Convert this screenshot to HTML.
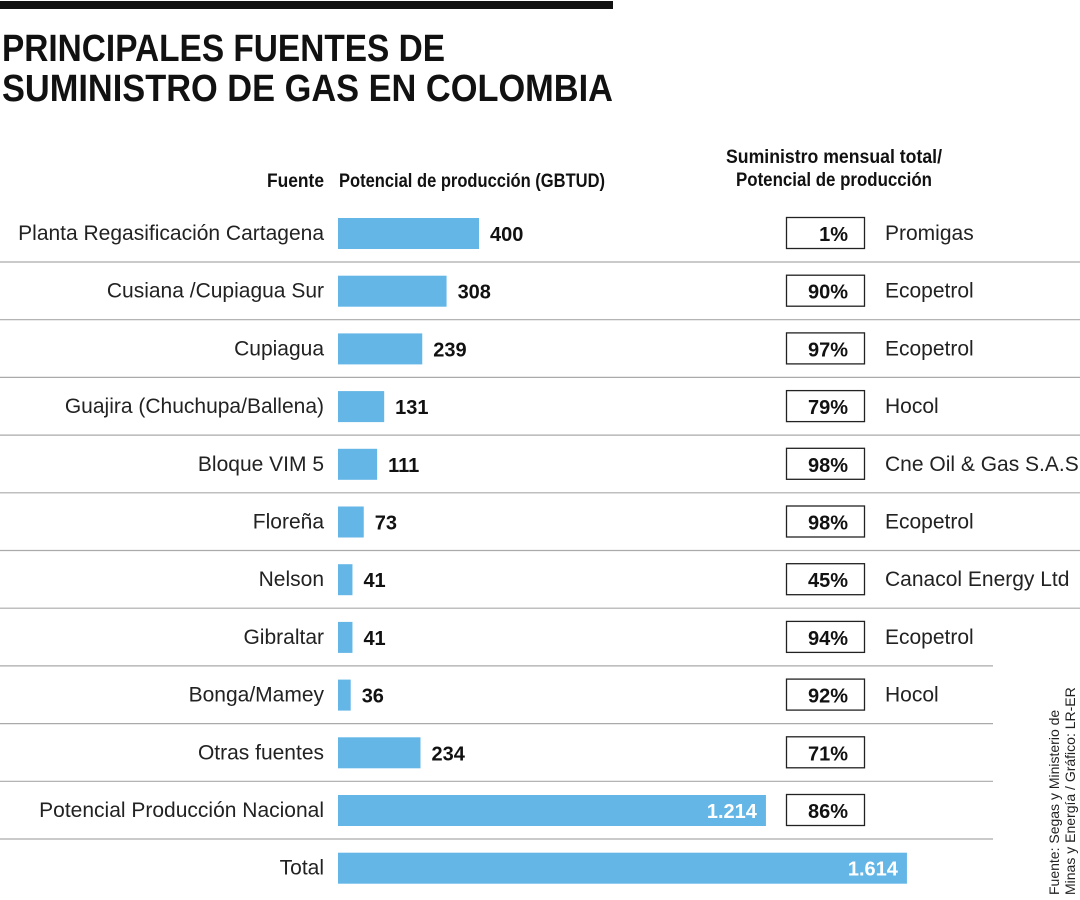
<!DOCTYPE html>
<html><head><meta charset="utf-8"><style>
body{margin:0;background:#fff;}
svg{display:block;font-family:"Liberation Sans",sans-serif;}
</style></head><body>
<svg id="chart" width="1080" height="900" viewBox="0 0 1080 900">
<rect x="0" y="1" width="613" height="8" fill="#111"/>
<text x="2" y="61" font-size="38" font-weight="bold" textLength="443" lengthAdjust="spacingAndGlyphs" fill="#111">PRINCIPALES FUENTES DE</text>
<text x="2" y="101" font-size="38" font-weight="bold" textLength="611" lengthAdjust="spacingAndGlyphs" fill="#111">SUMINISTRO DE GAS EN COLOMBIA</text>
<text x="324" y="187" font-size="19" font-weight="bold" text-anchor="end" textLength="57" lengthAdjust="spacingAndGlyphs" fill="#111">Fuente</text>
<text x="339" y="187" font-size="19" font-weight="bold" textLength="266" lengthAdjust="spacingAndGlyphs" fill="#111">Potencial de producción (GBTUD)</text>
<text x="726" y="163" font-size="19" font-weight="bold" textLength="216" lengthAdjust="spacingAndGlyphs" fill="#111">Suministro mensual total/</text>
<text x="736" y="186" font-size="19" font-weight="bold" textLength="196" lengthAdjust="spacingAndGlyphs" fill="#111">Potencial de producción</text>
<g id="rows"></g>
<text transform="translate(1059,895) rotate(-90)" font-size="14" fill="#222">Fuente: Segas y Ministerio de</text>
<text transform="translate(1075,895) rotate(-90)" font-size="14" fill="#222">Minas y Energía / Gráfico: LR-ER</text>
</svg>
<script>
const categories=["Planta Regasificación Cartagena","Cusiana /Cupiagua Sur","Cupiagua","Guajira (Chuchupa/Ballena)","Bloque VIM 5","Floreña","Nelson","Gibraltar","Bonga/Mamey","Otras fuentes","Potencial Producción Nacional","Total"];
const values=[400,308,239,131,111,73,41,41,36,234,1214,1614];
const valueLabels=["400","308","239","131","111","73","41","41","36","234","1.214","1.614"];
const ratios=["1%","90%","97%","79%","98%","98%","45%","94%","92%","71%","86%",""];
const operators=["Promigas","Ecopetrol","Ecopetrol","Hocol","Cne Oil & Gas S.A.S","Ecopetrol","Canacol Energy Ltd","Ecopetrol","Hocol","","",""];
const NS="http://www.w3.org/2000/svg";
const g=document.getElementById('rows');
const x0=338, scale=141/400;
const xs=v=>v*scale;
const yc=i=>233+i*57.7;
function mk(tag,attrs,txt){const e=document.createElementNS(NS,tag);for(const k in attrs)e.setAttribute(k,attrs[k]);if(txt!==undefined)e.textContent=txt;g.appendChild(e);return e;}
categories.forEach((c,i)=>{
  const y=yc(i);
  if(i<11){
    const ln=mk('line',{x1:0,x2:i<=6?1080:993,y1:y+29,y2:y+29,stroke:'#aaa','stroke-width':1.2});
    
    
  }
  const lab=mk('text',{x:324,y:y+7,'font-size':21,'text-anchor':'end',fill:'#222'},c);
  
  
  const w=xs(values[i]);
  const bar=mk('rect',{x:x0,y:y-15,width:w,height:31,fill:'#63b6e6'});
  
  
  const big=i>=10;
  const vl=mk('text',{x:big?x0+w-9:x0+w+11,y:y+8,'font-size':20,'font-weight':'bold','text-anchor':big?'end':'start',fill:big?'#fff':'#111'},valueLabels[i]);
  
  
  if(ratios[i]){
    const bx=mk('rect',{x:786.5,y:y-15.5,width:78,height:31,fill:'#fff',stroke:'#222','stroke-width':1.3});
    
    
    const rt=mk('text',{x:848,y:y+8,'font-size':20,'font-weight':'bold','text-anchor':'end',fill:'#111'},ratios[i]);
    
    
  }
  if(operators[i]){
    const op=mk('text',{x:885,y:y+7,'font-size':21,fill:'#222'},operators[i]);
    
    
  }
});
</script>
</body></html>
